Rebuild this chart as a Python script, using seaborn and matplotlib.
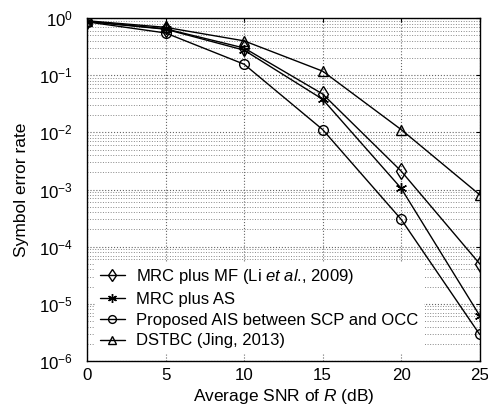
import numpy as np
import pandas as pd
import seaborn as sns
import matplotlib.pyplot as plt

snr = [0, 5, 10, 15, 20, 25]
ser_mrc_mf = [0.88, 0.65, 0.30, 0.047, 2.1e-3, 5.0e-5]
ser_mrc_as = [0.87, 0.64, 0.275, 0.038, 1.05e-3, 6.2e-6]
ser_ais = [0.86, 0.55, 0.156, 0.0112, 3.0e-4, 2.9e-6]
ser_dstbc = [0.90, 0.69, 0.40, 0.118, 0.0112, 8.1e-4]

labels = ['MRC plus MF (Li $\\mathit{et\\ al}$., 2009)', 'MRC plus AS',
          'Proposed AIS between SCP and OCC', 'DSTBC (Jing, 2013)']
marker_list = ['d', (6, 2, 0), 'o', '^']
marker_sizes = [8, 8, 7, 7.5]

sns.set_style('white')
plt.rcParams['font.family'] = ['Liberation Sans', 'DejaVu Sans']
plt.rcParams['mathtext.fontset'] = 'custom'
plt.rcParams['mathtext.rm'] = 'Liberation Sans'
plt.rcParams['mathtext.it'] = 'Liberation Sans:italic'
plt.rcParams['text.color'] = 'black'
plt.rcParams['axes.labelcolor'] = 'black'
plt.rcParams['xtick.color'] = 'black'
plt.rcParams['ytick.color'] = 'black'

fig = plt.figure(figsize=(4.89, 4.12), dpi=100)
ax = fig.add_axes([0.178, 0.124, 0.803, 0.832])

for vals, lab, mk, ms in zip([ser_mrc_mf, ser_mrc_as, ser_ais, ser_dstbc], labels, marker_list, marker_sizes):
    sns.lineplot(x=snr, y=vals, label=lab, color='black', linewidth=1,
                 marker=mk, markersize=ms, markerfacecolor='none',
                 markeredgecolor='black', markeredgewidth=1, ax=ax)

ax.set_yscale('log')
ax.set_xlim(0, 25)
ax.set_ylim(1e-6, 1)
ax.set_xticks([0, 5, 10, 15, 20, 25])
ax.set_yticks([1e-6, 1e-5, 1e-4, 1e-3, 1e-2, 1e-1, 1])
ax.grid(True, which='major', linestyle=':', color='#666666', linewidth=0.8)
ax.grid(True, which='minor', axis='y', linestyle=':', color='#888888', linewidth=0.7)
ax.tick_params(which='both', direction='in', top=True, right=True, labelsize=12.2,
               length=3, width=0.8, color='black', labelcolor='black')
ax.tick_params(axis='x', pad=5)
ax.tick_params(axis='y', pad=10)
ax.tick_params(which='minor', length=0)
for s in ax.spines.values():
    s.set_color('black')
    s.set_linewidth(1)

ax.set_xlabel('Average SNR of $\\it{R}$ (dB)', fontsize=12.5, labelpad=3, color='black')
ax.set_ylabel('Symbol error rate', fontsize=12.5, labelpad=7, color='black')

leg = ax.legend(loc='lower left', fontsize=12, frameon=True, fancybox=False,
                borderaxespad=0.5, handlelength=1.5, handletextpad=0.7,
                labelspacing=0.35, borderpad=0.25, markerscale=0.8, labelcolor='black')
leg.get_frame().set_edgecolor('white')
leg.get_frame().set_alpha(1)

fig.savefig('out.png', dpi=100)
